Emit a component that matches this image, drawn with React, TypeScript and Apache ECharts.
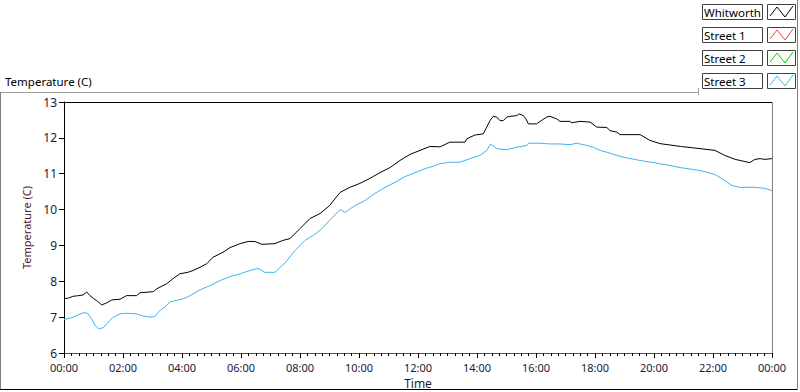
import React, { useEffect, useRef } from "react";
import * as echarts from "echarts";

const seriesNames = ["Whitworth", "Street 1", "Street 2", "Street 3"];
const seriesColors = ["#000000", "#ff3c3c", "#00d000", "#3fb4f0"];

const whitworthHours = [0, 0.15, 0.3, 0.5, 0.65, 0.77, 0.88, 1.0, 1.11, 1.28, 1.45, 1.62, 1.9, 2.12, 2.46, 2.58, 3.03, 3.14, 3.48, 3.69, 3.93, 4.2, 4.37, 4.61, 4.84, 5.05, 5.39, 5.63, 5.97, 6.24, 6.47, 6.71, 7.15, 7.42, 7.66, 8.0, 8.34, 8.68, 9.0, 9.36, 9.69, 10.03, 10.37, 10.71, 11.05, 11.39, 11.73, 12.07, 12.41, 12.75, 13.08, 13.59, 13.65, 13.93, 14.21, 14.33, 14.44, 14.55, 14.67, 14.78, 14.89, 15.01, 15.12, 15.35, 15.42, 15.57, 15.66, 15.74, 16.02, 16.14, 16.36, 16.47, 16.7, 16.81, 17.15, 17.21, 17.49, 17.83, 18.06, 18.4, 18.51, 18.74, 18.85, 19.53, 19.86, 20.2, 20.9, 21.56, 22.07, 22.4, 22.75, 23.08, 23.25, 23.42, 23.6, 23.76, 24.0];
const whitworthTemps = [7.52, 7.53, 7.58, 7.6, 7.62, 7.7, 7.6, 7.52, 7.46, 7.34, 7.4, 7.48, 7.5, 7.6, 7.6, 7.68, 7.71, 7.79, 7.93, 8.07, 8.21, 8.25, 8.3, 8.39, 8.49, 8.67, 8.81, 8.94, 9.05, 9.11, 9.11, 9.03, 9.05, 9.14, 9.19, 9.47, 9.75, 9.89, 10.11, 10.48, 10.62, 10.73, 10.87, 11.03, 11.17, 11.37, 11.54, 11.65, 11.76, 11.75, 11.88, 11.88, 11.97, 12.08, 12.11, 12.3, 12.48, 12.6, 12.58, 12.48, 12.48, 12.58, 12.6, 12.62, 12.67, 12.62, 12.53, 12.39, 12.39, 12.46, 12.58, 12.6, 12.53, 12.46, 12.46, 12.42, 12.46, 12.44, 12.3, 12.29, 12.2, 12.16, 12.09, 12.09, 11.93, 11.84, 11.76, 11.7, 11.65, 11.51, 11.4, 11.34, 11.31, 11.4, 11.42, 11.4, 11.42];

const street3Hours = [0, 0.32, 0.54, 0.71, 0.82, 0.94, 1.05, 1.16, 1.33, 1.5, 1.67, 1.9, 2.12, 2.46, 2.69, 2.92, 3.08, 3.25, 3.42, 3.59, 3.76, 4.04, 4.27, 4.61, 4.95, 5.29, 5.63, 5.97, 6.3, 6.58, 6.8, 7.15, 7.5, 7.83, 8.17, 8.5, 8.75, 9.0, 9.36, 9.53, 9.86, 10.2, 10.54, 10.88, 11.22, 11.56, 11.9, 12.24, 12.58, 12.75, 13.08, 13.42, 13.76, 14.1, 14.33, 14.46, 14.67, 15.01, 15.35, 15.69, 15.74, 16.14, 16.47, 16.81, 17.15, 17.38, 17.72, 17.94, 18.17, 18.4, 18.74, 19.07, 19.53, 20.2, 20.9, 21.56, 22.07, 22.4, 22.64, 22.9, 23.42, 23.76, 24.0];
const street3Temps = [6.93, 7.0, 7.09, 7.13, 7.09, 6.95, 6.77, 6.68, 6.7, 6.86, 7.0, 7.09, 7.11, 7.09, 7.03, 7.0, 7.02, 7.19, 7.28, 7.42, 7.46, 7.51, 7.6, 7.76, 7.88, 8.02, 8.13, 8.21, 8.3, 8.36, 8.25, 8.25, 8.52, 8.86, 9.14, 9.31, 9.47, 9.7, 10.0, 9.92, 10.11, 10.25, 10.45, 10.62, 10.76, 10.92, 11.03, 11.14, 11.23, 11.28, 11.32, 11.32, 11.42, 11.51, 11.65, 11.83, 11.7, 11.67, 11.74, 11.79, 11.85, 11.85, 11.83, 11.83, 11.81, 11.85, 11.79, 11.74, 11.65, 11.6, 11.51, 11.44, 11.37, 11.28, 11.17, 11.09, 10.98, 10.81, 10.67, 10.62, 10.62, 10.59, 10.53];

const street1Hours: number[] = [];
const street1Temps: number[] = [];
const street2Hours: number[] = [];
const street2Temps: number[] = [];

const xTickHours = [0, 2, 4, 6, 8, 10, 12, 14, 16, 18, 20, 22, 24];
const yTicks = [6, 7, 8, 9, 10, 11, 12, 13];

const FONT = "Noto Sans";

function zip(h: number[], t: number[]) {
  return h.map((x, i) => [x, t[i]]);
}

function fmtHour(v: number) {
  const h = Math.round(v) % 24;
  return (h < 10 ? "0" : "") + h + ":00";
}

export default function App() {
  const ref = useRef<HTMLDivElement>(null);
  useEffect(() => {
    if (!ref.current) return;
    const chart = echarts.init(ref.current, null, { renderer: "svg" });
    const allData = [
      zip(whitworthHours, whitworthTemps),
      zip(street1Hours, street1Temps),
      zip(street2Hours, street2Temps),
      zip(street3Hours, street3Temps),
    ];

    const legendGraphics: any[] = [];
    seriesNames.forEach((name, i) => {
      const top = 4 + i * 23;
      legendGraphics.push({
        type: "rect",
        shape: { x: 702.5, y: top + 0.5, width: 60, height: 15 },
        style: { fill: "#ffffff", stroke: "#404040", lineWidth: 1 },
      });
      legendGraphics.push({
        type: "text",
        x: 704,
        y: top + 8,
        style: { text: name, fill: "#000000", font: `11.5px "${FONT}"`, textVerticalAlign: "middle" },
      });
      legendGraphics.push({
        type: "rect",
        shape: { x: 767.5, y: top + 0.5, width: 28, height: 15 },
        style: { fill: "#ffffff", stroke: "#404040", lineWidth: 1 },
      });
      legendGraphics.push({
        type: "polyline",
        shape: {
          points: [
            [770, top + 12],
            [777, top + 3],
            [785, top + 13],
            [793, top + 2],
          ],
        },
        style: { stroke: seriesColors[i], lineWidth: 1, fill: "none" },
      });
    });

    chart.setOption({
      animation: false,
      backgroundColor: "#ffffff",
      grid: { left: 64, top: 102, right: 28, bottom: 39, containLabel: false, outerBoundsMode: "none" },
      xAxis: {
        type: "value",
        min: 0,
        max: 24,
        interval: 2,
        name: "Time",
        nameLocation: "middle",
        nameGap: 24,
        nameTextStyle: { color: "#1a1a3a", fontFamily: FONT, fontSize: 12 },
        axisLine: { show: true, onZero: false, lineStyle: { color: "#555555", width: 1 } },
        axisTick: { show: true, length: 5, lineStyle: { color: "#000000" } },
        minorTick: { show: true, splitNumber: 8, length: 3, lineStyle: { color: "#000000" } },
        splitLine: { show: false },
        axisLabel: {
          color: "#1a1a3a",
          fontFamily: FONT,
          fontSize: 11,
          margin: 9,
          formatter: (v: number) => (xTickHours.indexOf(v) >= 0 ? fmtHour(v) : ""),
        },
      },
      yAxis: {
        type: "value",
        min: yTicks[0],
        max: yTicks[yTicks.length - 1],
        interval: 1,
        name: "Temperature (C)",
        nameLocation: "middle",
        nameGap: 26,
        nameTextStyle: { color: "#501428", fontFamily: FONT, fontSize: 11 },
        axisLine: { show: true, lineStyle: { color: "#000000", width: 1 } },
        axisTick: { show: true, length: 5, lineStyle: { color: "#000000" } },
        splitLine: { show: false },
        axisLabel: { color: "#1a1a3a", fontFamily: FONT, fontSize: 12, margin: 7 },
      },
      series: seriesNames.map((name, i) => ({
        name,
        type: "line",
        data: allData[i],
        showSymbol: false,
        symbol: "none",
        lineStyle: { color: seriesColors[i], width: 1 },
        itemStyle: { color: seriesColors[i] },
      })),
      graphic: [
        { type: "line", shape: { x1: 0, y1: 92.5, x2: 698, y2: 92.5 }, style: { stroke: "#a0a0a0", lineWidth: 1 } },
        { type: "line", shape: { x1: 0.5, y1: 92, x2: 0.5, y2: 390 }, style: { stroke: "#808080", lineWidth: 1 } },
        { type: "line", shape: { x1: 0, y1: 389.5, x2: 798, y2: 389.5 }, style: { stroke: "#000000", lineWidth: 1 } },
        { type: "line", shape: { x1: 797.5, y1: 0, x2: 797.5, y2: 390 }, style: { stroke: "#808080", lineWidth: 1 } },
        { type: "line", shape: { x1: 698.5, y1: 88, x2: 698.5, y2: 95 }, style: { stroke: "#a0a0a0", lineWidth: 1 } },
        { type: "line", shape: { x1: 64, y1: 102.5, x2: 772, y2: 102.5 }, style: { stroke: "#000000", lineWidth: 1 } },
        { type: "line", shape: { x1: 772.5, y1: 102, x2: 772.5, y2: 353 }, style: { stroke: "#808080", lineWidth: 1 } },
        {
          type: "text",
          x: 5,
          y: 81,
          style: { text: "Temperature (C)", fill: "#000000", font: `11.5px "${FONT}"`, textVerticalAlign: "middle" },
        },
        ...legendGraphics,
      ],
    });
    return () => chart.dispose();
  }, []);
  return <div ref={ref} style={{ width: 800, height: 392, position: "absolute", left: 0, top: 0 }} />;
}
